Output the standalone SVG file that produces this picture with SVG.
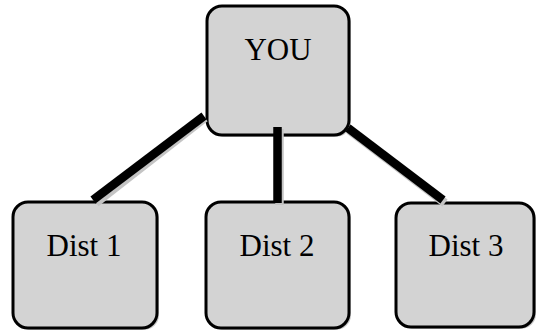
<svg xmlns="http://www.w3.org/2000/svg" width="537" height="335" viewBox="0 0 537 335">
<style>
.box{fill:#d3d3d3;stroke:#000;stroke-width:3}
.shadow{fill:#c8c8c8}
.lbl{font-family:"Liberation Serif","Times New Roman",serif;font-size:31px;fill:#000;text-anchor:middle}
.conn{stroke:#000;stroke-width:8.5;fill:none}
.cshadow{stroke:#c4c4c4;stroke-width:8.5;fill:none}
</style>
<rect width="537" height="335" fill="#fff"/>
<g id="you">
<rect class="shadow" x="209" y="8" width="142" height="129" rx="15"/>
<rect class="box" x="207" y="6" width="142" height="129" rx="15"/>
<text class="lbl" x="278" y="60">YOU</text>
</g>
<g id="dist1">
<rect class="shadow" x="15" y="204" width="144" height="126" rx="15"/>
<rect class="box" x="13" y="202" width="144" height="126" rx="15"/>
<text class="lbl" x="84" y="256">Dist 1</text>
</g>
<g id="dist2">
<rect class="shadow" x="208" y="204" width="143" height="126" rx="15"/>
<rect class="box" x="206" y="202" width="143" height="126" rx="15"/>
<text class="lbl" x="277" y="256">Dist 2</text>
</g>
<g id="dist3">
<rect class="shadow" x="398" y="205" width="138" height="124" rx="15"/>
<rect class="box" x="396" y="203" width="138" height="124" rx="15"/>
<text class="lbl" x="466" y="256">Dist 3</text>
</g>
<g id="connectors">
<line class="cshadow" x1="205" y1="118" x2="96" y2="203"/>
<line class="cshadow" x1="279.5" y1="129" x2="279.5" y2="205"/>
<line class="cshadow" x1="349" y1="130" x2="445" y2="203"/>
<line class="conn" x1="204" y1="116" x2="93" y2="200"/>
<line class="conn" x1="277.5" y1="127" x2="277.5" y2="203"/>
<line class="conn" x1="348" y1="128" x2="443" y2="200"/>
</g>
</svg>
